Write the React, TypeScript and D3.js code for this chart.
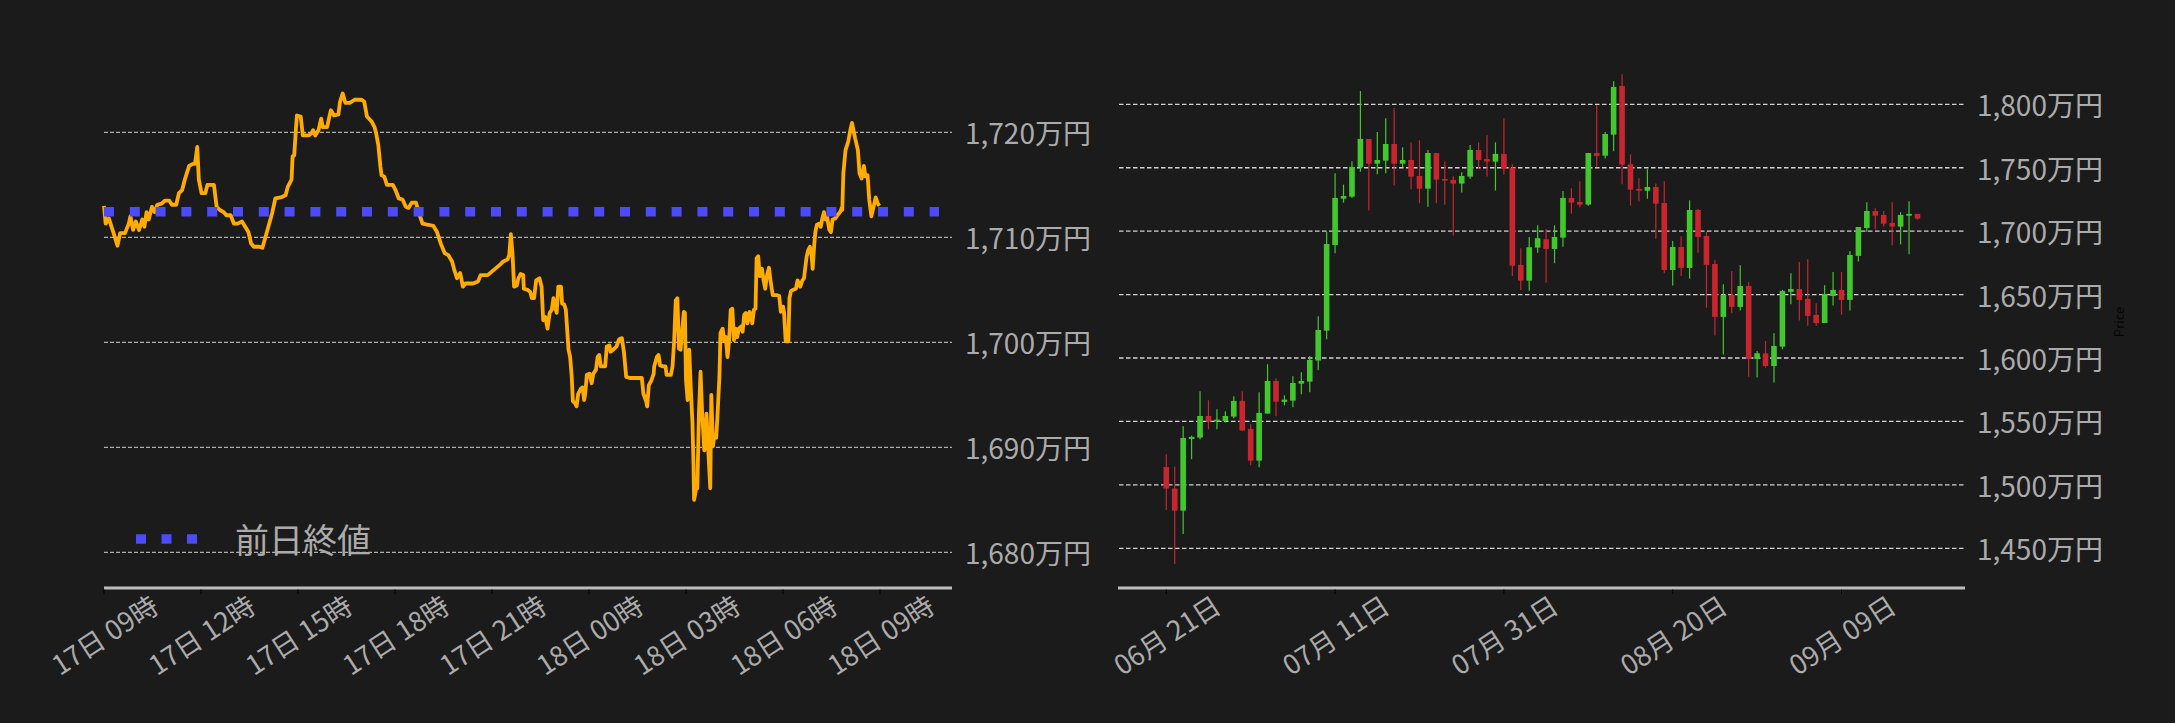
import React from "react";
import * as d3 from "d3";

// ---------- Left chart data (intraday, minutes from 17日 09:00) ----------
const lineMinutes = [
  0, 3, 9, 14, 19, 25, 30, 39, 46, 49, 54, 59, 65, 71, 75, 79, 83, 89, 94, 99,
  107, 113, 121, 126, 134, 139, 145, 150, 158, 165, 169, 173, 176, 181, 188, 192, 204, 209, 215, 222,
  227, 235, 241, 248, 256, 262, 268, 273, 278, 288, 294, 299, 305, 312, 318, 328, 337, 341, 348, 350,
  353, 356, 358, 365, 369, 380, 385, 388, 392, 398, 403, 406, 414, 417, 421, 427, 435, 438, 443, 448,
  456, 465, 478, 483, 488, 497, 502, 505, 509, 513, 515, 520, 525, 536, 541, 547, 554, 560, 565, 571,
  579, 584, 591, 600, 611, 618, 625, 632, 639, 646, 650, 655, 661, 666, 671, 685, 694, 699, 712, 735,
  741, 749, 752, 755, 758, 761, 766, 769, 773, 778, 779, 786, 791, 794, 798, 802, 808, 812, 815, 819,
  823, 827, 831, 834, 837, 840, 843, 848, 850, 854, 857, 862, 865, 868, 870, 874, 877, 880, 885, 888,
  891, 893, 896, 901, 905, 908, 913, 916, 919, 922, 930, 933, 938, 940, 945, 951, 956, 961, 965, 969,
  976, 985, 998, 1001, 1006, 1008, 1011, 1016, 1020, 1021, 1026, 1029, 1032, 1038, 1042, 1044, 1052, 1055, 1058, 1061,
  1064, 1067, 1070, 1073, 1076, 1078, 1080, 1083, 1086, 1089, 1092, 1094, 1095, 1099, 1101, 1104, 1107, 1110, 1114, 1117,
  1118, 1121, 1125, 1127, 1130, 1132, 1136, 1138, 1142, 1144, 1148, 1151, 1154, 1157, 1160, 1163, 1166, 1169, 1172, 1175,
  1178, 1182, 1185, 1188, 1191, 1194, 1198, 1200, 1203, 1206, 1209, 1211, 1214, 1217, 1221, 1224, 1227, 1230, 1234, 1237,
  1241, 1248, 1253, 1256, 1260, 1262, 1265, 1270, 1272, 1275, 1279, 1284, 1287, 1292, 1296, 1299, 1302, 1304, 1307, 1310,
  1313, 1315, 1318, 1320, 1323, 1327, 1330, 1333, 1336, 1339, 1342, 1346, 1349, 1352, 1357, 1361, 1366, 1369, 1370, 1372,
  1376, 1381, 1385, 1388, 1394, 1399, 1402, 1406, 1410, 1413, 1417, 1420, 1424, 1428, 1432, 1436, 1439,
];
const lineValues = [
  1713.0, 1711.3, 1711.8, 1711.0, 1710.2, 1709.2, 1710.4, 1710.4, 1711.3, 1712.0, 1710.7, 1711.5, 1710.7, 1711.7, 1711.0, 1712.4, 1711.7, 1712.9, 1712.4, 1713.1,
  1713.2, 1713.5, 1713.5, 1713.1, 1713.1, 1714.2, 1714.5, 1715.5, 1716.8, 1717.0, 1717.0, 1718.6, 1715.5, 1714.2, 1714.2, 1715.0, 1715.0, 1712.9, 1712.6, 1712.4,
  1712.1, 1712.1, 1711.3, 1711.3, 1711.5, 1711.0, 1710.5, 1709.4, 1709.1, 1709.1, 1709.0, 1709.9, 1711.0, 1712.3, 1713.7, 1713.8, 1714.0, 1714.8, 1715.5, 1717.7,
  1717.8, 1720.2, 1721.6, 1721.5, 1719.7, 1719.7, 1719.9, 1720.2, 1719.7, 1720.2, 1721.3, 1720.5, 1720.5, 1721.2, 1722.1, 1721.6, 1721.7, 1722.9, 1723.7, 1722.8,
  1722.8, 1723.1, 1723.1, 1722.9, 1721.5, 1721.0, 1720.5, 1719.9, 1718.8, 1716.7, 1715.9, 1715.8, 1715.0, 1715.0, 1714.5, 1713.7, 1713.6, 1712.9, 1712.8, 1713.3,
  1713.3, 1712.4, 1711.3, 1711.2, 1711.1, 1710.5, 1709.4, 1708.5, 1708.3, 1707.7, 1706.9, 1706.1, 1706.6, 1705.3, 1705.6, 1705.6, 1705.8, 1706.4, 1706.4, 1707.4,
  1707.7, 1707.9, 1708.3, 1710.3, 1708.5, 1705.3, 1705.4, 1706.1, 1706.5, 1706.4, 1705.1, 1705.0, 1704.8, 1704.2, 1704.2, 1705.9, 1706.1, 1705.3, 1702.1, 1702.4,
  1701.3, 1702.8, 1703.1, 1704.2, 1703.4, 1702.8, 1705.3, 1705.3, 1703.7, 1703.6, 1703.1, 1699.3, 1698.6, 1696.7, 1694.4, 1694.2, 1693.9, 1695.1, 1695.6, 1695.7,
  1694.5, 1695.1, 1696.9, 1697.0, 1696.1, 1697.0, 1697.4, 1698.6, 1698.8, 1697.7, 1697.7, 1699.6, 1699.7, 1699.1, 1699.3, 1699.6, 1700.3, 1700.4, 1699.0, 1696.7,
  1696.6, 1696.6, 1696.6, 1695.1, 1694.4, 1693.9, 1695.9, 1696.4, 1697.0, 1697.7, 1698.6, 1698.8, 1697.8, 1697.7, 1697.7, 1696.9, 1696.9, 1697.7, 1700.1, 1704.0,
  1704.2, 1699.4, 1699.3, 1701.2, 1702.9, 1702.8, 1696.4, 1694.5, 1699.3, 1695.5, 1692.3, 1688.2, 1685.0, 1686.1, 1686.1, 1693.2, 1697.2, 1693.2, 1689.7, 1691.3,
  1693.2, 1690.1, 1686.1, 1695.0, 1690.1, 1690.9, 1690.9, 1692.6, 1696.7, 1700.9, 1701.3, 1700.1, 1700.5, 1698.6, 1700.2, 1703.1, 1703.2, 1700.2, 1701.3, 1700.5,
  1701.3, 1701.5, 1701.0, 1702.6, 1702.8, 1701.8, 1702.9, 1702.6, 1701.8, 1703.1, 1703.2, 1708.0, 1708.2, 1706.3, 1707.0, 1705.9, 1705.1, 1706.3, 1707.1, 1705.8,
  1704.5, 1704.5, 1704.4, 1702.9, 1703.4, 1702.8, 1700.1, 1700.1, 1704.2, 1704.9, 1705.0, 1705.1, 1705.9, 1705.3, 1705.9, 1706.1, 1707.4, 1708.2, 1708.8, 1709.1,
  1708.3, 1707.0, 1709.3, 1710.5, 1711.2, 1711.3, 1711.0, 1711.8, 1712.4, 1711.7, 1711.9, 1710.7, 1710.5, 1711.7, 1711.8, 1712.1, 1712.4, 1712.8, 1712.6, 1716.1,
  1718.3, 1719.1, 1720.2, 1720.9, 1719.4, 1718.3, 1716.1, 1715.6, 1716.8, 1715.8, 1715.9, 1713.6, 1712.0, 1712.9, 1713.8, 1713.2, 1713.0,
];
const prevClose = 1712.44;
const leftYTicks = [1680, 1690, 1700, 1710, 1720];
const legendLabel = "前日終値";

// ---------- Right chart data (daily OHLC from 06/21) ----------
const candleStart = "2025-06-21";
const opens = [
  1514.1, 1497.1, 1479.7, 1536.2, 1537.3, 1554.3, 1549.9, 1550.4, 1553.8, 1566.2,
  1544.1, 1519.1, 1556.2, 1581.9, 1565.4, 1566.4, 1579.8, 1581.4, 1598.0, 1621.6,
  1689.1, 1725.6, 1727.2, 1750.3, 1772.7, 1753.2, 1755.6, 1768.7, 1753.2, 1756.1,
  1743.5, 1733.5, 1761.6, 1741.1, 1740.4, 1737.5, 1743.0, 1764.0, 1756.9, 1754.8,
  1760.9, 1750.1, 1673.4, 1661.0, 1687.0, 1693.6, 1686.0, 1694.9, 1726.2, 1723.0,
  1720.9, 1761.6, 1759.5, 1776.1, 1814.5, 1752.7, 1733.3, 1731.9, 1734.8, 1722.2,
  1669.4, 1687.5, 1671.0, 1716.7, 1696.2, 1674.1, 1632.4, 1649.7, 1640.3, 1656.8,
  1599.3, 1603.7, 1593.7, 1609.0, 1652.1, 1654.4, 1646.6, 1634.0, 1627.6, 1648.9,
  1653.7, 1645.8, 1680.5, 1702.5, 1715.9, 1712.8, 1706.5, 1703.6, 1712.2, 1713.6,
];
const highs = [
  1524.1, 1514.4, 1546.2, 1538.8, 1573.8, 1566.7, 1559.6, 1558.0, 1569.8, 1573.8,
  1547.8, 1573.0, 1595.1, 1584.0, 1570.6, 1585.6, 1588.8, 1601.6, 1632.9, 1699.6,
  1745.6, 1736.7, 1755.1, 1810.5, 1772.7, 1778.2, 1789.0, 1796.8, 1766.1, 1769.8,
  1771.6, 1764.0, 1761.6, 1755.1, 1743.2, 1746.4, 1767.9, 1770.0, 1775.6, 1770.0,
  1789.0, 1752.7, 1686.5, 1695.4, 1704.6, 1701.7, 1704.6, 1731.7, 1733.8, 1739.3,
  1761.6, 1799.5, 1778.2, 1818.1, 1823.6, 1760.6, 1741.7, 1748.8, 1737.5, 1739.3,
  1692.3, 1696.0, 1724.3, 1717.5, 1699.6, 1677.3, 1658.1, 1668.6, 1673.1, 1659.7,
  1605.6, 1613.5, 1619.5, 1653.7, 1666.8, 1675.7, 1677.8, 1643.1, 1657.3, 1667.8,
  1667.8, 1684.4, 1703.3, 1722.8, 1718.0, 1715.9, 1722.8, 1714.9, 1723.5, 1713.6,
];
const lows = [
  1480.2, 1437.7, 1461.3, 1520.2, 1535.9, 1543.8, 1543.8, 1549.1, 1552.5, 1542.8,
  1515.5, 1513.9, 1556.2, 1554.1, 1562.7, 1561.2, 1571.4, 1573.0, 1590.3, 1614.8,
  1682.6, 1722.5, 1726.2, 1746.9, 1716.2, 1744.8, 1745.6, 1735.9, 1750.3, 1733.0,
  1722.0, 1719.3, 1722.0, 1720.9, 1696.5, 1730.4, 1741.4, 1749.0, 1743.0, 1732.0,
  1744.6, 1664.7, 1653.7, 1653.1, 1683.0, 1659.4, 1674.7, 1687.8, 1713.8, 1718.8,
  1720.1, 1750.3, 1757.2, 1763.0, 1736.9, 1720.1, 1723.3, 1725.6, 1694.1, 1666.8,
  1657.1, 1664.7, 1662.6, 1683.0, 1639.7, 1617.7, 1602.7, 1635.3, 1637.4, 1585.3,
  1584.6, 1592.4, 1580.6, 1606.9, 1642.4, 1629.5, 1625.5, 1625.5, 1627.6, 1641.3,
  1634.2, 1637.4, 1676.0, 1699.6, 1701.5, 1703.6, 1688.6, 1689.6, 1681.8, 1709.1,
];
const closes = [
  1497.1, 1479.7, 1537.0, 1537.8, 1554.3, 1549.9, 1551.4, 1554.3, 1566.2, 1542.8,
  1519.1, 1556.7, 1581.9, 1565.6, 1567.2, 1580.3, 1581.9, 1598.5, 1622.1, 1689.9,
  1726.2, 1727.7, 1750.6, 1772.7, 1753.2, 1756.1, 1768.7, 1753.2, 1756.1, 1743.0,
  1733.5, 1761.6, 1740.6, 1739.8, 1737.5, 1743.5, 1764.0, 1756.1, 1754.8, 1760.9,
  1749.0, 1672.8, 1661.0, 1687.3, 1694.4, 1686.0, 1695.4, 1726.2, 1722.5, 1720.9,
  1761.6, 1759.3, 1776.6, 1813.7, 1752.4, 1732.7, 1731.9, 1734.8, 1721.7, 1669.4,
  1687.5, 1671.0, 1716.7, 1695.4, 1673.4, 1632.4, 1649.7, 1640.3, 1656.8, 1599.3,
  1603.7, 1593.7, 1609.5, 1652.9, 1654.4, 1645.8, 1633.2, 1627.6, 1650.5, 1653.7,
  1645.8, 1681.2, 1703.3, 1715.9, 1712.2, 1705.9, 1703.6, 1712.8, 1713.6, 1709.9,
];
const rightYTicks = [1450, 1500, 1550, 1600, 1650, 1700, 1750, 1800];
const rightTickDates = ["2025-06-21", "2025-07-11", "2025-07-31", "2025-08-20", "2025-09-09"];
const rightAxisTitle = "Price";

// ---------- styles ----------
const BG = "#1b1b1b";
const TEXT = "#ababab";
const GRID = "#d2d2d2";
const AXIS = "#bdbdbd";
const ORANGE = "#ffab00";
const BLUE = "#4b4bfa";
const UP = "#42c82c";
const DOWN = "#c9252f";
const FONT = "'Noto Sans CJK JP', 'Noto Sans', sans-serif";

const fmtYen = (v: number) => d3.format(",")(v) + "万円";

export default function App() {
  const H = 3600e3;
  const DAY = 24 * H;
  const t0 = Date.UTC(2025, 8, 17, 9, 0);

  // Left scales
  const xL = d3.scaleUtc().domain([new Date(t0), new Date(t0 + 26.227 * H)]).range([104, 952]);
  const yL = d3.scaleLinear().domain([1680, 1720]).range([552.3, 132.3]);
  const leftTicks = d3.utcHour.every(3)!.range(new Date(t0), new Date(t0 + 24 * H + 1));
  const fmtL = d3.utcFormat("%d日 %H時");
  const pts: [number, number][] = lineMinutes.map((m, i) => [xL(new Date(t0 + m * 60000)), yL(lineValues[i])]);
  const pathL = d3.line().curve(d3.curveLinear)(pts) || "";

  // Right scales
  const c0 = d3.utcParse("%Y-%m-%d")(candleStart)!.getTime();
  const xR = d3.scaleUtc().domain([new Date(c0 - 5.72 * DAY), new Date(c0 + 94.63 * DAY)]).range([1118, 1965]);
  const yR = d3.scaleLinear().domain([1450, 1800]).range([548.3, 104.3]);
  const candleDates = d3.utcDay.range(new Date(c0), new Date(c0 + opens.length * DAY));
  const fmtR = d3.utcFormat("%m月 %d日");
  const rTicks = rightTickDates.map((s) => d3.utcParse("%Y-%m-%d")(s)!);
  const bodyW = 5.6;

  const axisY = 588;

  return (
    <svg
      width={2175}
      height={723}
      style={{ position: "absolute", left: 0, top: 0, background: BG, display: "block" }}
      fontFamily={FONT}
    >
      <rect x={0} y={0} width={2175} height={723} fill={BG} />

      {/* ---------- Left chart ---------- */}
      {leftYTicks.map((v) => (
        <g key={"lg" + v}>
          <line x1={104} x2={952} y1={yL(v)} y2={yL(v)} stroke={GRID} strokeWidth={1} strokeDasharray="4 2" />
          <text x={965} y={yL(v)} fill={TEXT} fontSize={28} dominantBaseline="central">
            {fmtYen(v)}
          </text>
        </g>
      ))}
      <path d={pathL} fill="none" stroke={ORANGE} strokeWidth={3.8} strokeLinejoin="round" />
      <line
        x1={104}
        x2={939}
        y1={yL(prevClose)}
        y2={yL(prevClose)}
        stroke={BLUE}
        strokeWidth={9.5}
        strokeDasharray="10 15.8"
      />
      <line x1={104} x2={952} y1={axisY} y2={axisY} stroke={AXIS} strokeWidth={3} />
      {leftTicks.map((d, i) => (
        <g key={"lt" + i}>
          <line x1={xL(d)} x2={xL(d)} y1={axisY + 1.5} y2={axisY + 6} stroke="#000" strokeWidth={1} />
          <text
            transform={`translate(${xL(d)},634) rotate(-33)`}
            textAnchor="middle"
            dominantBaseline="central"
            fill={TEXT}
            fontSize={27}
          >
            {fmtL(d)}
          </text>
        </g>
      ))}
      {/* legend */}
      <line x1={136} x2={197} y1={539} y2={539} stroke={BLUE} strokeWidth={9.5} strokeDasharray="10 15.5" />
      <text x={235} y={538} fill={TEXT} fontSize={34} dominantBaseline="central">
        {legendLabel}
      </text>

      {/* ---------- Right chart ---------- */}
      {rightYTicks.map((v) => (
        <g key={"rg" + v}>
          <line x1={1119} x2={1964} y1={yR(v)} y2={yR(v)} stroke={GRID} strokeWidth={1.3} strokeDasharray="4.5 2.5" />
          <text x={1977} y={yR(v)} fill={TEXT} fontSize={28} dominantBaseline="central">
            {fmtYen(v)}
          </text>
        </g>
      ))}
      {candleDates.map((d, i) => {
        const o = opens[i];
        const c = closes[i];
        const up = c >= o;
        const col = up ? UP : DOWN;
        const x = xR(d);
        const top = yR(Math.max(o, c));
        const bot = yR(Math.min(o, c));
        return (
          <g key={"c" + i}>
            <line x1={x} x2={x} y1={yR(highs[i])} y2={yR(lows[i])} stroke={col} strokeWidth={1.2} />
            <rect x={x - bodyW / 2} y={top} width={bodyW} height={Math.max(1.5, bot - top)} fill={col} />
          </g>
        );
      })}
      <line x1={1118} x2={1965} y1={axisY} y2={axisY} stroke={AXIS} strokeWidth={3} />
      {rTicks.map((d, i) => (
        <g key={"rt" + i}>
          <line x1={xR(d)} x2={xR(d)} y1={axisY + 1.5} y2={axisY + 6} stroke="#000" strokeWidth={1} />
          <text
            transform={`translate(${xR(d)},634) rotate(-33)`}
            textAnchor="middle"
            dominantBaseline="central"
            fill={TEXT}
            fontSize={27}
          >
            {fmtR(d)}
          </text>
        </g>
      ))}
      <text
        transform="translate(2118,322) rotate(-90)"
        textAnchor="middle"
        dominantBaseline="central"
        fill="#050505"
        fontSize={13}
      >
        {rightAxisTitle}
      </text>
    </svg>
  );
}
